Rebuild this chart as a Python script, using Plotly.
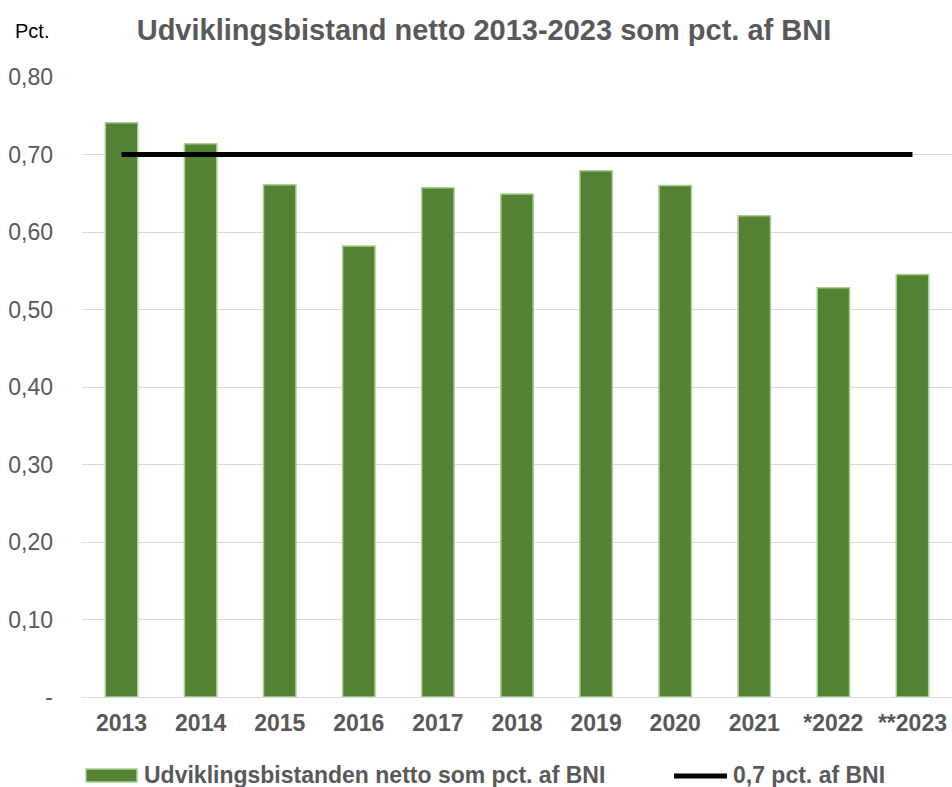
import plotly.graph_objects as go

years = ["2013", "2014", "2015", "2016", "2017", "2018", "2019", "2020", "2021", "*2022", "**2023"]
aid_pct = [0.741, 0.714, 0.661, 0.582, 0.657, 0.649, 0.679, 0.660, 0.621, 0.528, 0.545]
target = [0.70] * len(years)
y_ticks = [0, 0.1, 0.2, 0.3, 0.4, 0.5, 0.6, 0.7, 0.8]
y_tick_labels = ["-", "0,10", "0,20", "0,30", "0,40", "0,50", "0,60", "0,70", "0,80"]
bar_name = "Udviklingsbistanden netto som pct. af BNI"
line_name = "0,7 pct. af BNI"

FONT = "Liberation Sans, Arial, sans-serif"
GREY = "#595959"
GREEN = "#548235"
LIGHT = "#A9D18E"

W, H = 952, 787
# plot area in window pixels: x 82..952, y 77..697
L, R, T, B = 82, 0, 77, 90
PW, PH = W - L - R, H - T - B


def px(x):
    return (x - L) / PW


def py(y):
    return (H - B - y) / PH


fig = go.Figure()
fig.add_trace(go.Bar(
    x=years, y=aid_pct, name=bar_name, showlegend=False,
    marker=dict(color=GREEN, line=dict(color=LIGHT, width=1.5)),
))
fig.add_trace(go.Scatter(
    x=years, y=target, mode="lines", name=line_name, showlegend=False,
    line=dict(color="black", width=5),
))

fig.update_layout(
    width=W, height=H,
    margin=dict(l=L, r=R, t=T, b=B),
    plot_bgcolor="white", paper_bgcolor="white",
    bargap=0.59,
    font=dict(family=FONT, size=23, color=GREY),
    title=dict(text="<b>Udviklingsbistand netto 2013-2023 som pct. af BNI</b>",
               x=484 / W, xanchor="center", y=1 - 30 / H, yanchor="middle",
               font=dict(size=29, color=GREY, family=FONT)),
    showlegend=False,
    xaxis=dict(showgrid=False, showline=True, linecolor="#D9D9D9", linewidth=1,
               tickfont=dict(size=23, color=GREY, family=FONT), ticklabelstandoff=5,
               tickprefix="<b>", ticksuffix="</b>"),
    yaxis=dict(range=[0, 0.8], tickvals=y_ticks, ticktext=y_tick_labels,
               showgrid=True, gridcolor="#D9D9D9", gridwidth=1, zeroline=False,
               tickfont=dict(size=23, color=GREY, family=FONT), ticklabelstandoff=28),
)
fig.add_annotation(text="Pct.", xref="paper", yref="paper", x=px(13), y=py(31),
                   xanchor="left", yanchor="middle", showarrow=False,
                   font=dict(size=20, color="black", family=FONT))

# custom legend
fig.add_shape(type="rect", xref="paper", yref="paper",
              x0=px(86), x1=px(137), y0=py(782), y1=py(769),
              fillcolor=GREEN, line=dict(color=LIGHT, width=1.5))
fig.add_annotation(text="<b>" + bar_name + "</b>", xref="paper", yref="paper",
                   x=px(142), y=py(775), xanchor="left", yanchor="middle", showarrow=False,
                   font=dict(size=23, color=GREY, family=FONT))
fig.add_shape(type="line", xref="paper", yref="paper",
              x0=px(674), x1=px(727), y0=py(776), y1=py(776),
              line=dict(color="black", width=5))
fig.add_annotation(text="<b>" + line_name + "</b>", xref="paper", yref="paper",
                   x=px(731), y=py(775), xanchor="left", yanchor="middle", showarrow=False,
                   font=dict(size=23, color=GREY, family=FONT))

fig.write_html(
    "out.html",
    config={"displayModeBar": False},
    post_script="document.body.style.margin='0';document.body.style.overflow='hidden';",
)
